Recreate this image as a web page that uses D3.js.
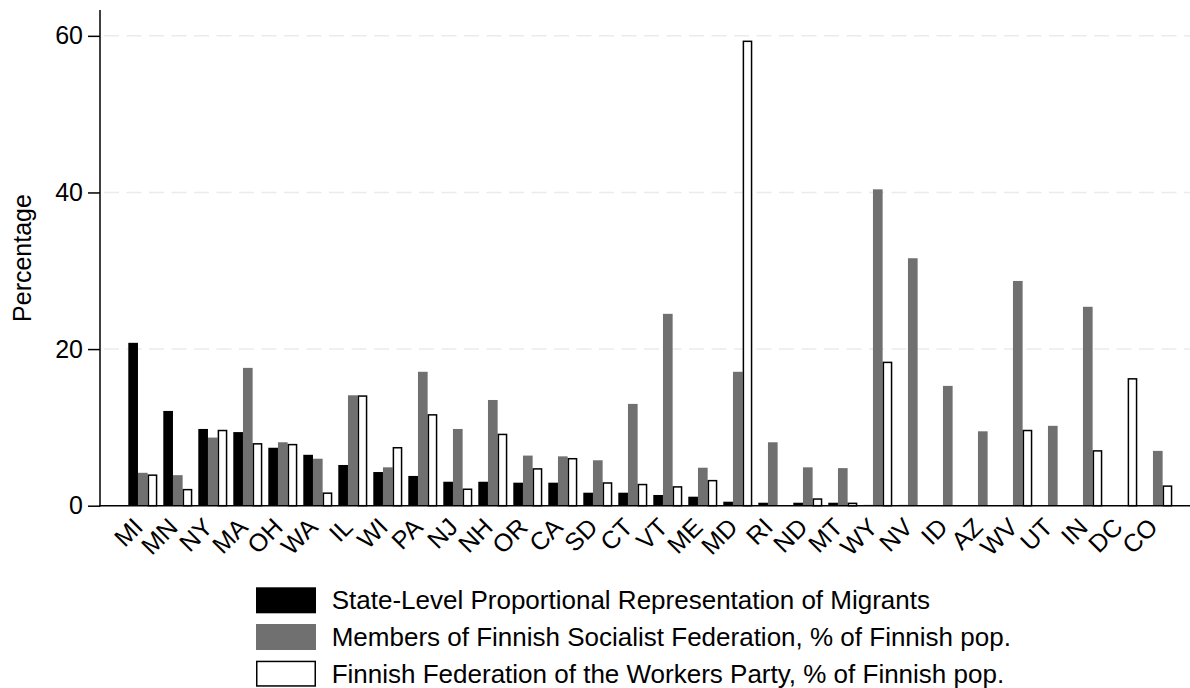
<!DOCTYPE html>
<html>
<head>
<meta charset="utf-8">
<script src="https://cdn.jsdelivr.net/npm/d3@7"></script>
<style>
  body { margin: 0; background: #fff; }
  svg { font-family: "Liberation Sans", Arial, Helvetica, sans-serif; }
</style>
</head>
<body>
<svg width="1190" height="688"></svg>
<script>
const states = ["MI","MN","NY","MA","OH","WA","IL","WI","PA","NJ","NH","OR","CA","SD","CT",
                "VT","ME","MD","RI","ND","MT","WY","NV","ID","AZ","WV","UT","IN","DC","CO"];

const migrants = [20.8,12.1,9.8,9.4,7.4,6.5,5.2,4.3,3.8,3.06,3.06,2.94,2.94,1.66,1.66,
                  1.37,1.15,0.51,0.38,0.38,0.38,0.1,0.1,0.08,0.08,0,0,0,0,0];
const socialist = [4.2,3.9,8.7,17.6,8.1,6.0,14.1,4.9,17.1,9.8,13.5,6.4,6.3,5.8,13.0,
                   24.5,4.85,17.1,8.1,4.9,4.8,40.4,31.6,15.3,9.5,28.7,10.2,25.4,0,7.0];
const workers = [3.9,2.05,9.6,7.9,7.8,1.6,14.0,7.4,11.6,2.1,9.1,4.7,6.0,2.9,2.7,
                 2.4,3.2,59.3,0,0.85,0.3,18.3,0,0,0,9.6,0,7.0,16.2,2.5];

const seriesNames = [
  "State-Level Proportional Representation of Migrants",
  "Members of Finnish Socialist Federation, % of Finnish pop.",
  "Finnish Federation of the Workers Party, % of Finnish pop."
];
const seriesValues = [migrants, socialist, workers];
const fills = ["#000000", "#707070", "#ffffff"];
const yTicks = [0, 20, 40, 60];

const svg = d3.select("svg");
const axisX = 100, plotTop = 10, plotBottom = 505.7, plotRight = 1190;

const y = d3.scaleLinear().domain([0, 63.3]).range([plotBottom, plotTop]);
const x0 = d3.scaleBand().domain(states).range([125.3, 1175.3])
    .paddingInner(0.171).paddingOuter(0.0857);
const x1 = d3.scaleBand().domain(d3.range(3)).range([0, x0.bandwidth()]);

// gridlines
svg.append("g").selectAll("line").data(yTicks.filter(d => d > 0))
  .enter().append("line")
  .attr("x1", axisX + 4).attr("x2", plotRight)
  .attr("y1", d => y(d)).attr("y2", d => y(d))
  .attr("stroke", "#ebebeb").attr("stroke-width", 1.5)
  .attr("stroke-dasharray", "15,7.5");

// bars
const rows = states.map((s, i) => ({ state: s, vals: seriesValues.map(v => v[i]) }));
const groups = svg.append("g").selectAll("g").data(rows)
  .enter().append("g")
  .attr("transform", d => `translate(${x0(d.state)},0)`);

groups.selectAll("rect")
  .data(d => d.vals.map((v, k) => ({ v, k })).filter(e => e.v > 0))
  .enter().append("rect")
  .attr("x", e => x1(e.k) + (e.k === 2 ? 0.75 : 0))
  .attr("width", e => x1.bandwidth() - (e.k === 2 ? 1.5 : 0))
  .attr("y", e => y(e.v))
  .attr("height", e => plotBottom - y(e.v))
  .attr("fill", e => fills[e.k])
  .attr("stroke", e => e.k === 2 ? "#000" : "none")
  .attr("stroke-width", 1.5);

// y axis
const yAxis = d3.axisLeft(y).tickValues(yTicks).tickSize(12).tickPadding(5);
const gy = svg.append("g").attr("transform", `translate(${axisX},0)`).call(yAxis);
gy.select(".domain").remove();
gy.selectAll(".tick line").attr("stroke", "#000").attr("stroke-width", 1.5);
gy.selectAll(".tick text").attr("font-size", 25).attr("fill", "#000")
  .attr("font-family", "Liberation Sans, Arial, sans-serif");
svg.append("line").attr("x1", axisX).attr("x2", axisX)
  .attr("y1", plotTop).attr("y2", plotBottom + 0.75)
  .attr("stroke", "#000").attr("stroke-width", 1.5);

// x axis
svg.append("line").attr("x1", axisX - 0.75).attr("x2", plotRight)
  .attr("y1", plotBottom).attr("y2", plotBottom)
  .attr("stroke", "#000").attr("stroke-width", 1.5);

svg.append("g").selectAll("text").data(states)
  .enter().append("text")
  .attr("transform", d => `translate(${x0(d) + x0.bandwidth() / 2 + 1.5},${plotBottom + 23}) rotate(-45)`)
  .attr("text-anchor", "end")
  .attr("font-size", 25)
  .text(d => d);

// y label
svg.append("text")
  .attr("transform", `translate(31,258) rotate(-90)`)
  .attr("text-anchor", "middle")
  .attr("font-size", 25)
  .text("Percentage");

// legend
const legend = svg.append("g").selectAll("g").data(seriesNames)
  .enter().append("g")
  .attr("transform", (d, i) => `translate(256,${587.3 + i * 36.7})`);
legend.append("rect")
  .attr("x", (d, i) => i === 2 ? 0.75 : 0).attr("y", (d, i) => i === 2 ? 0.75 : 0)
  .attr("width", (d, i) => i === 2 ? 58.5 : 60)
  .attr("height", (d, i) => i === 2 ? 24.5 : 26)
  .attr("fill", (d, i) => fills[i])
  .attr("stroke", (d, i) => i === 2 ? "#000" : "none")
  .attr("stroke-width", 1.5);
legend.append("text")
  .attr("x", 75.7).attr("y", 13).attr("dy", "0.35em")
  .attr("font-size", 26)
  .text(d => d);
</script>
</body>
</html>
